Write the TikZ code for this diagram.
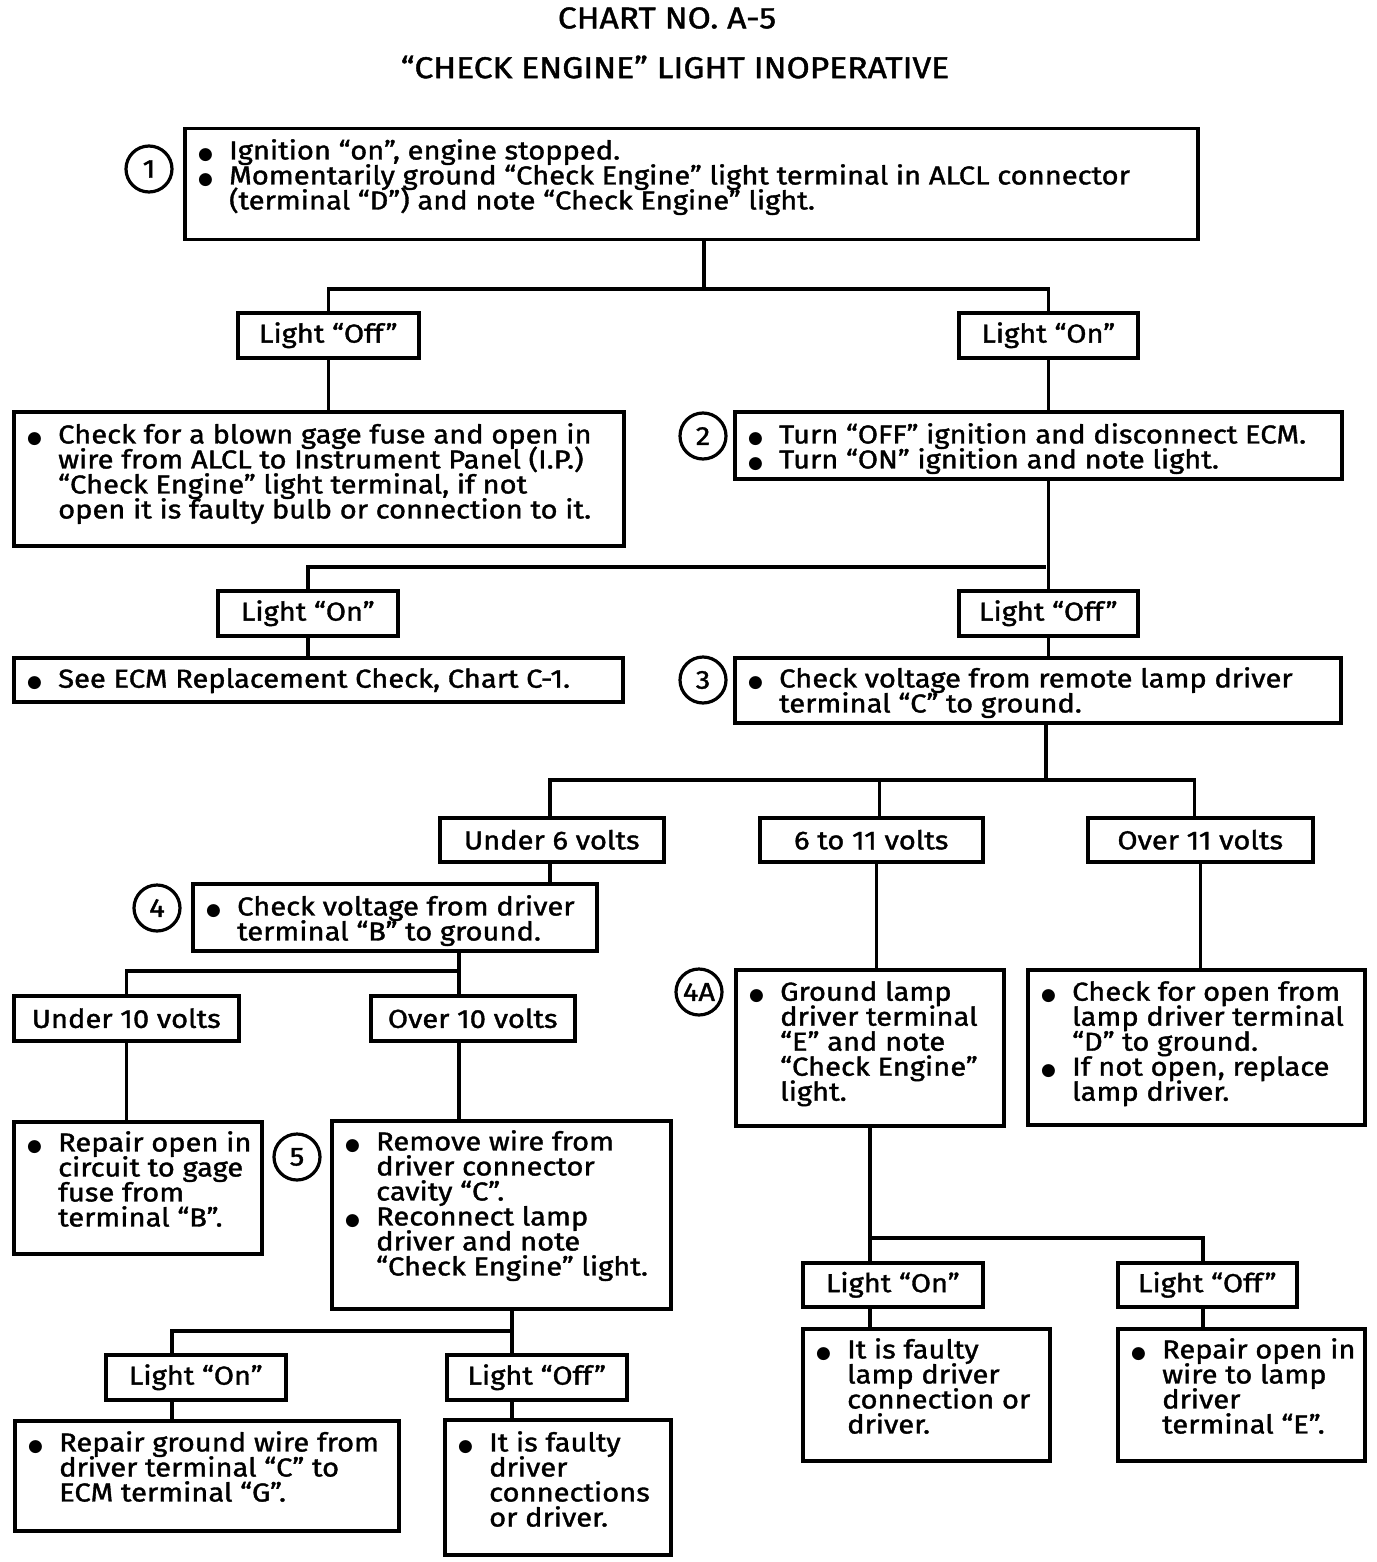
\documentclass[tikz,border=0pt]{standalone}
\usepackage{fontspec}
\setmainfont{Fira Sans}[FakeBold=1.4, FakeStretch=1.12]
\newfontfamily\dotfont{DejaVu Sans}
\usepackage{tikz}

\newcommand\itemdot{\makebox[31pt][l]{\dotfont\fontsize{17}{25}\selectfont ●}}
\newcommand\itemgap{\makebox[31pt]{}}
\newcommand\bodyfont{\fontsize{26}{25}\selectfont\lineskiplimit=-40pt\relax}

\tikzset{
  box/.style={draw, line width=3.5pt, inner sep=0pt, anchor=north west},
  lbl/.style={box, minimum height=45pt, font=\bodyfont},
  txt/.style={anchor=north west, inner sep=0pt, font=\bodyfont, align=left},
  num/.style={circle, draw, line width=3.2pt, minimum size=46pt, inner sep=0pt, font=\bodyfont},
  wire/.style={line width=3.5pt},
}

\begin{document}
\begin{tikzpicture}[x=1pt,y=-1pt]
\useasboundingbox (0,0) rectangle (1376,1562);

% title
\node[font=\fontsize{30}{30}\selectfont] (t1) at (667,18) {CHART NO. A-5};
\node[font=\fontsize{30}{30}\selectfont] (t2) at (675,67) {“CHECK ENGINE” LIGHT INOPERATIVE};

% step 1
\node[box, minimum width=1013pt, minimum height=111pt] (s1) at (183,127) {};
\node[txt] (s1t) at ([shift={(15,12)}]s1.north west) {%
\itemdot Ignition “on”, engine stopped.\\
\itemdot Momentarily ground “Check Engine” light terminal in ALCL connector\\
\itemgap (terminal “D”) and note “Check Engine” light.};
\node[num] (c1) at (149,169) {1};
\coordinate (j1) at (704,289);

\node[lbl, minimum width=181pt] (off1) at (236,311) {Light “Off”};
\node[lbl, minimum width=179pt] (on1) at (957,311) {Light “On”};

\node[box, minimum width=610pt, minimum height=134pt] (L1) at (12,410) {};
\node[txt] (L1t) at ([shift={(15,13)}]L1.north west) {%
\itemdot Check for a blown gage fuse and open in\\
\itemgap wire from ALCL to Instrument Panel (I.P.)\\
\itemgap “Check Engine” light terminal, if not\\
\itemgap open it is faulty bulb or connection to it.};

% step 2
\node[box, minimum width=607pt, minimum height=67pt] (s2) at (733,410) {};
\node[txt] (s2t) at ([shift={(15,13)}]s2.north west) {%
\itemdot Turn “OFF” ignition and disconnect ECM.\\
\itemdot Turn “ON” ignition and note light.};
\node[num] (c2) at (703,436) {2};
\coordinate (j2) at (1046,567);

\node[lbl, minimum width=180pt] (on2) at (216,589) {Light “On”};
\node[lbl, minimum width=179pt] (off2) at (957,589) {Light “Off”};

\node[box, minimum width=609pt, minimum height=44pt] (L2) at (12,656) {};
\node[txt] (L2t) at ([shift={(15,12)}]L2.north west) {%
\itemdot See ECM Replacement Check, Chart C-1.};

% step 3
\node[box, minimum width=606pt, minimum height=65pt] (s3) at (733,656) {};
\node[txt] (s3t) at ([shift={(15,11)}]s3.north west) {%
\itemdot Check voltage from remote lamp driver\\
\itemgap terminal “C” to ground.};
\node[num] (c3) at (703,680) {3};
\coordinate (j3) at (1046,780);

\node[lbl, minimum width=224pt, minimum height=44pt] (u6) at (438,816) {Under 6 volts};
\node[lbl, minimum width=223pt, minimum height=44pt] (m611) at (758,816) {6 to 11 volts};
\node[lbl, minimum width=225pt, minimum height=44pt] (o11) at (1086,816) {Over 11 volts};

% step 4
\node[box, minimum width=404pt, minimum height=67pt] (s4) at (191,882) {};
\node[txt] (s4t) at ([shift={(15,13)}]s4.north west) {%
\itemdot Check voltage from driver\\
\itemgap terminal “B” to ground.};
\node[num] (c4) at (157,908) {4};
\coordinate (j4) at (459,971);

\node[lbl, minimum width=225pt] (u10) at (12,994) {Under 10 volts};
\node[lbl, minimum width=204pt] (o10) at (369,994) {Over 10 volts};

\node[box, minimum width=248pt, minimum height=132pt] (L3) at (12,1120) {};
\node[txt] (L3t) at ([shift={(15,11)}]L3.north west) {%
\itemdot Repair open in\\
\itemgap circuit to gage\\
\itemgap fuse from\\
\itemgap terminal “B”.};

% step 5
\node[box, minimum width=339pt, minimum height=188pt] (s5) at (330,1119) {};
\node[txt] (s5t) at ([shift={(15,11)}]s5.north west) {%
\itemdot Remove wire from\\
\itemgap driver connector\\
\itemgap cavity “C”.\\
\itemdot Reconnect lamp\\
\itemgap driver and note\\
\itemgap “Check Engine” light.};
\node[num] (c5) at (297,1157) {5};
\coordinate (j5) at (512,1331);
\coordinate (j6) at (172,1331);

\node[lbl, minimum width=180pt] (on3) at (104,1353) {Light “On”};
\node[lbl, minimum width=180pt] (off3) at (445,1353) {Light “Off”};

\node[box, minimum width=384pt, minimum height=110pt] (L5) at (13,1419) {};
\node[txt] (L5t) at ([shift={(15,12)}]L5.north west) {%
\itemdot Repair ground wire from\\
\itemgap driver terminal “C” to\\
\itemgap ECM terminal “G”.};

\node[box, minimum width=226pt, minimum height=135pt] (L6) at (443,1418) {};
\node[txt] (L6t) at ([shift={(15,13)}]L6.north west) {%
\itemdot It is faulty\\
\itemgap driver\\
\itemgap connections\\
\itemgap or driver.};

% step 4A
\node[box, minimum width=268pt, minimum height=156pt] (s4A) at (734,968) {};
\node[txt] (s4At) at ([shift={(15,13)}]s4A.north west) {%
\itemdot Ground lamp\\
\itemgap driver terminal\\
\itemgap “E” and note\\
\itemgap “Check Engine”\\
\itemgap light.};
\node[num] (c4A) at (699,992) {4A};
\coordinate (j7) at (870,1238);
\coordinate (j8) at (1203,1238);

\node[box, minimum width=337pt, minimum height=155pt] (L4) at (1026,968) {};
\node[txt] (L4t) at ([shift={(15,13)}]L4.north west) {%
\itemdot Check for open from\\
\itemgap lamp driver terminal\\
\itemgap “D” to ground.\\
\itemdot If not open, replace\\
\itemgap lamp driver.};

\node[lbl, minimum width=180pt, minimum height=44pt] (on4) at (801,1261) {Light “On”};
\node[lbl, minimum width=179pt, minimum height=44pt] (off4) at (1116,1261) {Light “Off”};

\node[box, minimum width=247pt, minimum height=132pt] (L7) at (801,1327) {};
\node[txt] (L7t) at ([shift={(15,11)}]L7.north west) {%
\itemdot It is faulty\\
\itemgap lamp driver\\
\itemgap connection or\\
\itemgap driver.};

\node[box, minimum width=247pt, minimum height=132pt] (L8) at (1116,1327) {};
\node[txt] (L8t) at ([shift={(15,11)}]L8.north west) {%
\itemdot Repair open in\\
\itemgap wire to lamp\\
\itemgap driver\\
\itemgap terminal “E”.};

% connectors
\draw[wire] (s1.south -| j1) -- (j1);
\draw[wire] (off1.north) |- (j1) -| (on1.north);
\draw[wire] (off1.south) -- (off1.south |- L1.north);
\draw[wire] (on1.south) -- (on1.south |- s2.north);
\draw[wire] (s2.south -| off2) -- (off2.north);
\draw[wire] (on2.north) |- (j2);
\draw[wire] (on2.south) -- (on2.south |- L2.north);
\draw[wire] (off2.south) -- (off2.south |- s3.north);
\draw[wire] (s3.south -| j3) -- (j3);
\draw[wire] ([xshift=-2pt]u6.north) |- (j3) -| ([xshift=-6pt]o11.north);
\draw[wire] ([xshift=8pt]m611.north) -- ([xshift=8pt]m611.north |- j3);
\draw[wire] ([xshift=-2pt]u6.south) -- ([xshift=-2pt]u6.south |- s4.north);
\draw[wire] (s4.south -| j4) -- (o10.north -| j4);
\draw[wire] (u10.north) |- (j4);
\draw[wire] (u10.south) -- (u10.south |- L3.north);
\draw[wire] (o10.south -| j4) -- (s5.north -| j4);
\draw[wire] (s5.south -| j5) -- (off3.north -| j5);
\draw[wire] (on3.north -| j6) |- (j5);
\draw[wire] (on3.south -| j6) -- (L5.north -| j6);
\draw[wire] (off3.south -| j5) -- (L6.north -| j5);
\draw[wire] ([xshift=5pt]m611.south) -- ([xshift=5pt]m611.south |- s4A.north);
\draw[wire] (o11.south) -- (o11.south |- L4.north);
\draw[wire] (s4A.south -| j7) -- (on4.north -| j7);
\draw[wire] (on4.south -| j7) -- (L7.north -| j7);
\draw[wire] (j7) -- (j8) -- (off4.north -| j8);
\draw[wire] (off4.south -| j8) -- (L8.north -| j8);
\end{tikzpicture}
\end{document}
